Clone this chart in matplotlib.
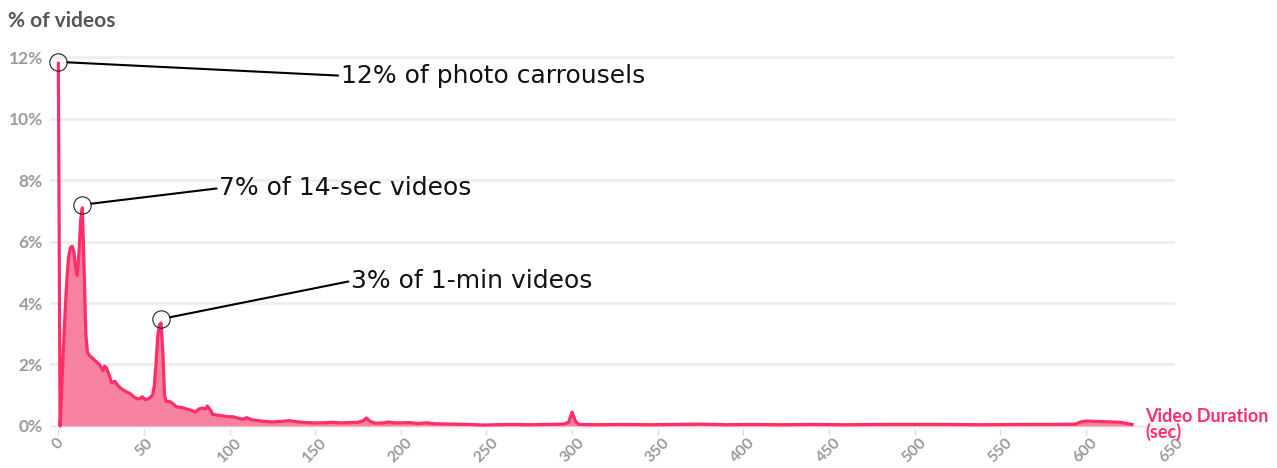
import numpy as np
import matplotlib
matplotlib.use("Agg")
import matplotlib.pyplot as plt

# video duration (sec) vs share of videos (%)
secs = [0, 1, 2, 3, 4, 5, 6, 7, 8, 9, 10, 11, 12, 13, 14, 15, 16, 17, 18, 20,
        22, 24, 26, 27, 28, 30, 31, 33, 35, 37, 40, 42, 44, 46, 48, 49, 51, 53,
        55, 56, 57, 58, 59, 60, 61, 62, 63, 65, 67, 69, 72, 75, 78, 80, 82, 84,
        86, 87, 89, 90, 93, 96, 99, 102, 105, 108, 110, 113, 116, 120, 125, 130,
        135, 140, 145, 150, 155, 160, 165, 170, 175, 178, 180, 182, 185, 190,
        193, 196, 200, 205, 210, 215, 220, 230, 240, 248, 255, 265, 275, 285,
        295, 298, 300, 302, 304, 315, 330, 345, 360, 375, 390, 405, 420, 440,
        460, 480, 500, 520, 540, 560, 580, 594, 597, 600, 610, 620, 627]
pct = [11.8, 0.0, 1.2, 2.6, 3.8, 4.8, 5.5, 5.8, 5.85, 5.7, 5.2, 4.9, 5.6, 6.7,
       7.1, 5.2, 3.0, 2.4, 2.3, 2.2, 2.1, 2.0, 1.8, 1.95, 1.9, 1.6, 1.4, 1.45,
       1.3, 1.2, 1.1, 1.05, 0.95, 0.88, 0.9, 0.95, 0.85, 0.9, 1.0, 1.3, 2.0,
       2.9, 3.3, 3.35, 2.4, 1.0, 0.8, 0.8, 0.72, 0.62, 0.6, 0.55, 0.5, 0.45,
       0.55, 0.58, 0.55, 0.65, 0.5, 0.38, 0.35, 0.33, 0.3, 0.3, 0.25, 0.22,
       0.27, 0.2, 0.18, 0.15, 0.13, 0.15, 0.17, 0.13, 0.11, 0.1, 0.1, 0.12,
       0.1, 0.11, 0.12, 0.17, 0.26, 0.15, 0.09, 0.1, 0.13, 0.1, 0.1, 0.11,
       0.08, 0.1, 0.07, 0.06, 0.05, 0.03, 0.04, 0.05, 0.04, 0.05, 0.06, 0.12,
       0.45, 0.15, 0.05, 0.04, 0.05, 0.04, 0.05, 0.06, 0.04, 0.05, 0.04, 0.05,
       0.04, 0.05, 0.05, 0.05, 0.04, 0.05, 0.05, 0.06, 0.13, 0.16, 0.14, 0.12,
       0.05]

# callouts: (point x, point y, text)
notes_x = [0, 14, 60]
notes_y = [11.85, 7.2, 3.48]
notes_txt = ["12% of photo carrousels", "7% of 14-sec videos", "3% of 1-min videos"]

yticks = [0, 2, 4, 6, 8, 10, 12]
xticks = list(range(0, 651, 50))

pink = "#ff2d6a"
fill = "#f7829f"
tickgrey = "#9b9b9b"

fig = plt.figure(figsize=(12.77, 4.68), dpi=100)
ax = fig.add_axes([0.039, 0.0833, 0.881, 0.814])

ax.fill_between(secs, pct, 0, color=fill, lw=0, zorder=2)
ax.plot(secs, pct, color=pink, lw=2.3, zorder=3, solid_joinstyle="round")

ax.set_xlim(-5, 652)
ax.set_ylim(-0.1, 12.3)
ax.set_yticks(yticks)
ax.set_yticklabels([f"{v}%" for v in yticks], family="Lato", fontweight="bold",
                   fontsize=12.5, color=tickgrey)
ax.set_xticks(xticks)
ax.set_xticklabels([str(v) for v in xticks], family="Lato", fontweight="bold",
                   fontsize=11.5, color=tickgrey, rotation=45, ha="center")
ax.tick_params(axis="y", length=0, pad=5)
ax.tick_params(axis="x", length=4, width=1, color="#dddddd", pad=1)
ax.grid(axis="y", color="#eeeeee", lw=2, zorder=0)
for s in ax.spines.values():
    s.set_visible(False)

# annotations
text_pos = [(165, 11.4), (94, 7.74), (171, 4.72)]
for px, py, t, (tx, ty) in zip(notes_x, notes_y, notes_txt, text_pos):
    ax.plot([px], [py], marker="o", ms=12.5, mfc="none", mec="#222222", mew=0.8,
            zorder=5, clip_on=False)
    ax.annotate(t, xy=(px, py), xytext=(tx, ty), ha="left", va="center",
                fontsize=18, family="DejaVu Sans", color="#111111", zorder=6,
                arrowprops=dict(arrowstyle="-", color="black", lw=1.5,
                                shrinkA=0, shrinkB=6.5, relpos=(0, 0.5)))

fig.text(0.006, 0.955, "% of videos", family="Lato", fontweight="bold",
         fontsize=15, color="#555555", va="center", ha="left")
fig.text(0.897, 0.093, "Video Duration\n(sec)", family="Lato", fontweight="bold",
         fontsize=13, color=pink, va="center", ha="left", linespacing=0.9)

fig.savefig("out.png", dpi=100)
